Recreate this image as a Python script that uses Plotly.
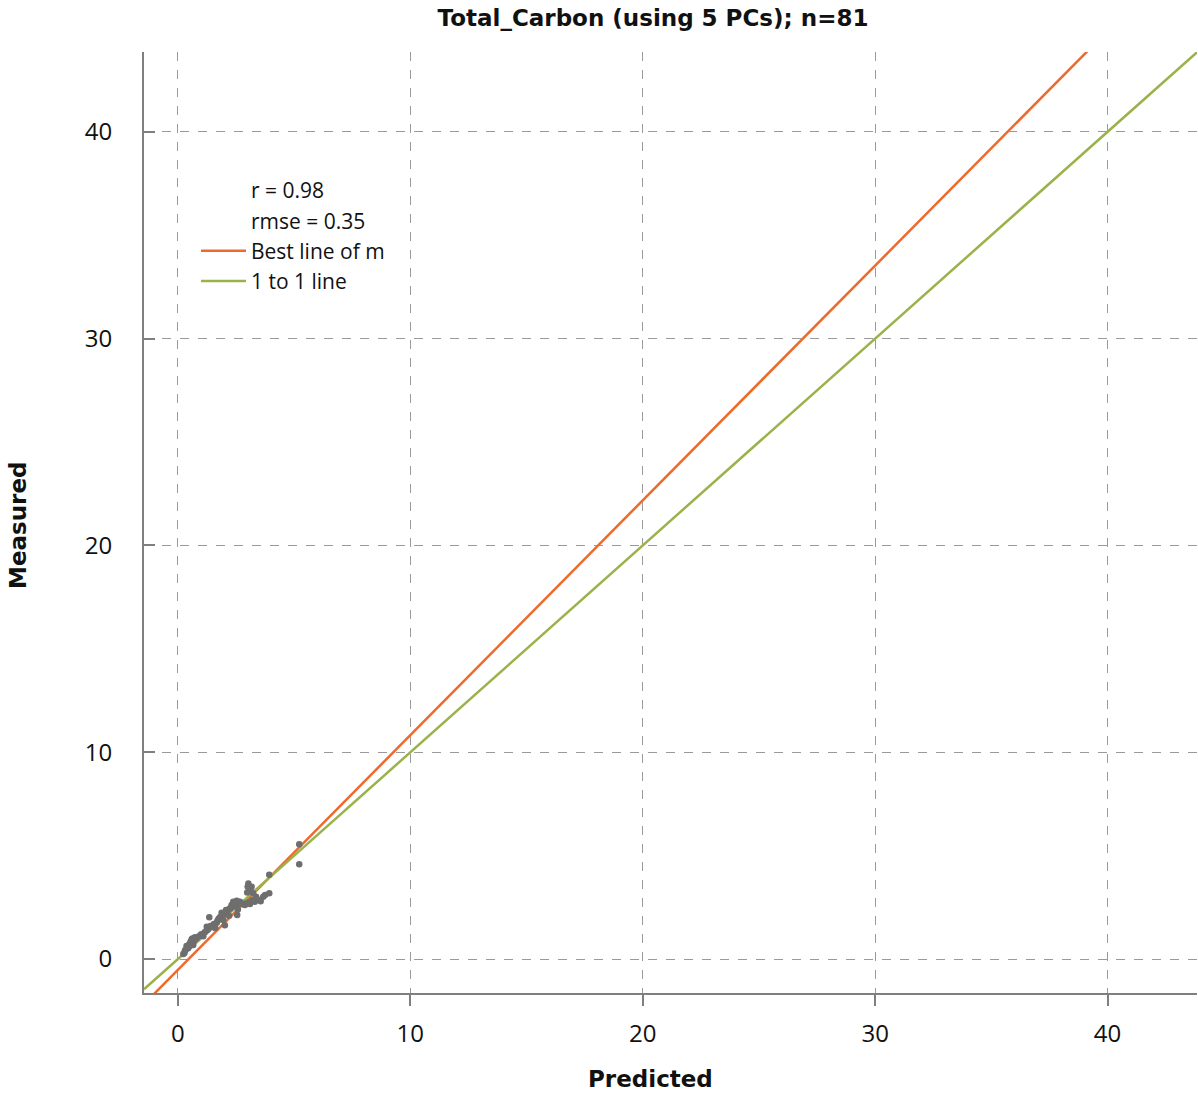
import plotly.graph_objects as go

# ---- data ----
predicted = [5.22, 5.22, 3.93, 3.93, 3.67, 3.56, 3.03, 3.17, 2.98, 3.24,
             3.36, 3.31, 3.10, 2.88, 2.67, 2.53, 2.38, 2.31, 2.53, 2.55,
             2.24, 2.07, 2.12, 1.88, 1.81, 1.95, 2.02, 1.67, 1.35, 1.49,
             1.24, 1.24, 1.09, 0.73, 0.59, 0.52, 0.66, 0.37, 0.30, 0.23,
             0.44, 0.55, 0.62, 0.48, 0.40, 0.33, 0.70, 0.80, 0.28, 0.50,
             0.60, 1.00, 1.15, 1.30, 1.40, 1.55, 1.70, 1.75, 1.85, 1.92,
             2.00, 2.10, 2.18, 2.28, 2.35, 2.42, 2.47, 2.60, 2.72, 2.80,
             2.95, 3.05, 3.20, 3.40, 3.12, 3.00, 2.58, 2.20, 1.60, 0.90,
             3.75]
measured = [5.55, 4.59, 4.08, 3.18, 3.01, 2.80, 3.66, 3.50, 3.22, 3.18,
            3.01, 2.77, 2.66, 2.61, 2.77, 2.82, 2.77, 2.61, 2.61, 2.13,
            2.45, 2.37, 2.21, 2.24, 2.02, 1.89, 1.64, 1.76, 2.02, 1.56,
            1.56, 1.40, 1.11, 1.05, 0.95, 0.76, 0.68, 0.63, 0.40, 0.24,
            0.52, 0.85, 1.00, 0.70, 0.55, 0.45, 0.90, 1.00, 0.30, 0.62,
            0.78, 1.20, 1.30, 1.45, 1.60, 1.70, 1.85, 1.95, 2.05, 2.10,
            2.20, 2.30, 2.40, 2.50, 2.55, 2.65, 2.70, 2.75, 2.70, 2.65,
            2.70, 2.75, 2.85, 2.90, 3.35, 3.50, 2.40, 2.10, 1.50, 1.10,
            3.10]

best_slope = 1.135
best_intercept = -0.52
r_value = 0.98
rmse_value = 0.35

x_range = [-1.46, 43.85]
y_range = [-1.64, 43.86]
tick_vals = [0, 10, 20, 30, 40]

line_x = [x_range[0], x_range[1]]
best_y = [best_slope * v + best_intercept for v in line_x]
one_y = list(line_x)

FONT = "Open Sans"
TFONT = "DejaVu Sans"

fig = go.Figure()
fig.add_trace(go.Scatter(x=[None], y=[None], mode="lines", name=f"r = {r_value:.2f}",
                         line=dict(color="rgba(0,0,0,0)"), legendgroup="a"))
fig.add_trace(go.Scatter(x=[None], y=[None], mode="lines", name=f"rmse = {rmse_value:.2f}",
                         line=dict(color="rgba(0,0,0,0)"), legendgroup="b"))
fig.add_trace(go.Scatter(x=line_x, y=best_y, mode="lines", name="Best line of m",
                         line=dict(color="#ee6a2c", width=2.5), legendgroup="c"))
fig.add_trace(go.Scatter(x=line_x, y=one_y, mode="lines", name="1 to 1 line",
                         line=dict(color="#9ab24a", width=2.5), legendgroup="d"))
fig.add_trace(go.Scatter(x=predicted, y=measured, mode="markers", showlegend=False,
                         marker=dict(color="#6e6e6e", size=6.5)))

axis_common = dict(
    showgrid=True, gridcolor="#9a9a9a", griddash="dash", gridwidth=1,
    zeroline=False, showline=True, linecolor="#7f7f7f", linewidth=2,
    tickvals=tick_vals, ticklen=11, tickwidth=2, tickcolor="#7f7f7f",
    tickfont=dict(family=FONT, size=24, color="#111"),
)

fig.update_layout(
    width=1198, height=1094,
    margin=dict(l=144, r=1, t=52, b=101),
    paper_bgcolor="white", plot_bgcolor="white",
    title=dict(text="<b>Total_Carbon (using 5 PCs); n=81</b>", x=653 / 1198, xanchor="center",
               y=1 - 18 / 1094, yanchor="middle",
               font=dict(family=TFONT, size=23, color="#111")),
    xaxis=dict(range=x_range, ticks="outside", ticklabelstandoff=7, **axis_common),
    yaxis=dict(range=y_range, ticks="inside", ticklabelstandoff=25, **axis_common),
    showlegend=True,
    legend=dict(x=(196 - 144) / 1053, y=1 - (170 - 52) / 941, xanchor="left", yanchor="top",
                bgcolor="rgba(0,0,0,0)", font=dict(family=FONT, size=21, color="#111"),
                traceorder="grouped", tracegroupgap=0, itemwidth=45),
    annotations=[
        dict(text="<b>Predicted</b>", xref="paper", yref="paper",
             x=(650 - 144) / 1053, y=-(1079 - 993) / 941, xanchor="center", yanchor="middle",
             showarrow=False, font=dict(family=TFONT, size=23, color="#111")),
        dict(text="<b>Measured</b>", xref="paper", yref="paper", textangle=-90,
             x=-(144 - 18) / 1053, y=(993 - 526) / 941, xanchor="center", yanchor="middle",
             showarrow=False, font=dict(family=TFONT, size=23, color="#111")),
    ],
)

fig.write_html("out.html")
